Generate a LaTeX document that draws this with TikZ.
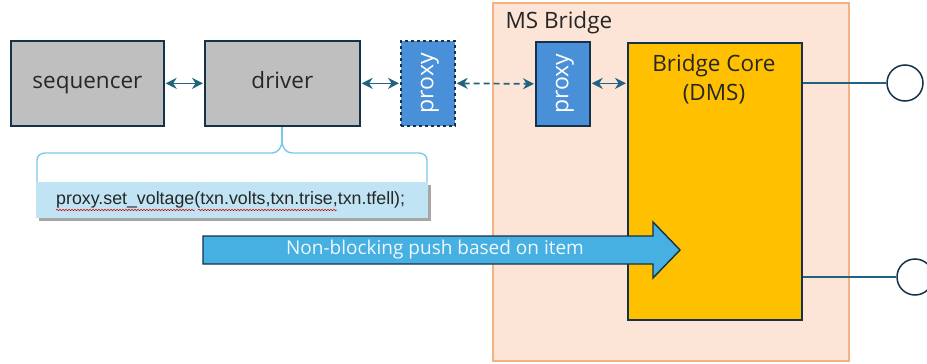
\documentclass[tikz,border=0pt]{standalone}
\usepackage{fontspec}
\setmainfont{Open Sans}
\newfontfamily\codefont{Liberation Sans}
\usetikzlibrary{arrows.meta,shadows,decorations.pathmorphing}
\definecolor{edgeblue}{HTML}{1F6381}
\definecolor{darkline}{HTML}{14324A}
\definecolor{boxgray}{HTML}{BFBFBF}
\definecolor{proxyblue}{HTML}{4A90D9}
\definecolor{bridgefill}{HTML}{FCE4D6}
\definecolor{bridgeline}{HTML}{F4B183}
\definecolor{coreyellow}{HTML}{FFC000}
\definecolor{bracecol}{HTML}{7CC8EC}
\definecolor{codefill}{HTML}{C0E4F4}
\definecolor{pusharrow}{HTML}{45B0E1}
\tikzset{
  graybox/.style={draw=darkline, line width=1.7pt, fill=boxgray, font=\fontsize{22.5}{25}\selectfont, text=black!85,
    text height=13pt, text depth=2pt},
  proxybox/.style={draw=darkline, line width=1.7pt, fill=proxyblue},
  proxytext/.style={rotate=90, text=white, font=\fontsize{23}{25}\selectfont, text height=13pt, text depth=2pt},
  tip/.tip={Stealth[length=11pt,width=11pt]},
  link/.style={draw=edgeblue, line width=1.7pt, tip-tip},
  port/.style={draw=edgeblue, line width=1.3pt},
  portcircle/.style={circle, draw=darkline, line width=1.5pt, fill=white, minimum size=36pt, inner sep=0pt},
  squiggle/.style={draw=red!85!black, line width=0.5pt, decorate, decoration={snake, amplitude=0.8pt, segment length=3pt}}
}
\begin{document}
\begin{tikzpicture}[x=1pt,y=-1pt]
\useasboundingbox (0,0) rectangle (927,364);

% MS Bridge container
\path[fill=bridgefill, draw=bridgeline, line width=1.5pt] (493,3) rectangle (849,361);
\node[anchor=west, font=\fontsize{22.5}{25}\selectfont, text=black!85] (mslabel) at (502,23) {MS Bridge};

% Bridge core
\node[draw=darkline, line width=1.7pt, fill=coreyellow, minimum width=174pt, minimum height=277pt, anchor=north west, inner sep=0pt] (core) at (627,42) {};
\node[align=center, font=\fontsize{22.5}{29}\selectfont, text=black!85, anchor=north] (coretext) at (714,51) {Bridge Core\\(DMS)};

% Blocks on the left
\node[graybox, minimum width=153pt, minimum height=85pt, anchor=north west, inner sep=0pt] (seq) at (10,40) {sequencer};
\node[graybox, minimum width=155pt, minimum height=85pt, anchor=north west, inner sep=0pt] (drv) at (204,40) {driver};
\node[proxybox, dashed, minimum width=54pt, minimum height=85pt, anchor=north west, inner sep=0pt] (px1) at (400,40) {};
\node[proxytext] (px1text) at (px1.center) {proxy};
\node[proxybox, minimum width=54pt, minimum height=84pt, anchor=north west, inner sep=0pt] (px2) at (535,41) {};
\node[proxytext] (px2text) at (px2.center) {proxy};

% Connectors
\draw[link] ([xshift=1pt]seq.east) -- ([xshift=-1pt]drv.west);
\draw[link] ([xshift=1pt]drv.east) -- ([xshift=-1pt]px1.west);
\draw[link, dash pattern=on 6pt off 4pt] ([xshift=1pt]px1.east) -- ([xshift=-1pt]px2.west);
\draw[link] ([xshift=1pt]px2.east |- px1.east) -- ([xshift=-1pt]core.west |- px1.east);

% Ports on the right
\node[portcircle] (p1) at (905,83) {};
\node[portcircle] (p2) at (915,277) {};
\draw[port] (core.east |- p1) -- (p1.west);
\draw[port] (core.east |- p2) -- (p2.west);

% Brace from the driver to the code box
\coordinate (bracetip) at (282,141);
\draw[bracecol, line width=1.4pt] (drv.south -| bracetip) -- (bracetip);
\draw[bracecol, line width=1.4pt] (37,184) -- (37,160) to[out=90,in=180] (45,153) -- (272,153)
  to[out=0,in=-90] (bracetip) to[out=-90,in=180] (292,153) -- (419,153) to[out=0,in=90] (427,160) -- (427,184);

% Code box
\node[fill=codefill, minimum width=392pt, minimum height=36pt, anchor=north west, inner sep=0pt,
  drop shadow={shadow xshift=2.5pt, shadow yshift=-2.5pt, fill=black, opacity=0.35}] (code) at (36,182) {};
\node[anchor=west, inner sep=0pt, font=\codefont\fontsize{17.8}{19}\selectfont, text=black!85] (codetext) at (56,200) {proxy.set\_voltage(txn.volts,txn.trise,txn.tfell);};
\draw[squiggle] (56,210) -- (195,210);
\draw[squiggle] (198,210) -- (337,210);

% Push arrow, outlined as a block arrow
\coordinate (pa1) at (203,236);
\coordinate (pa2) at (653,236);
\coordinate (pa3) at (653,222);
\coordinate (pa4) at (680,250);
\coordinate (pa5) at (653,278);
\coordinate (pa6) at (653,264);
\coordinate (pa7) at (203,264);
\draw[draw=darkline, line width=1.4pt, fill=pusharrow, line join=miter]
  (pa1) -- (pa2) -- (pa3) -- (pa4) -- (pa5) -- (pa6) -- (pa7) -- cycle;
\node[text=white!92!pusharrow, font=\fontsize{19}{21}\selectfont] (pushtext) at (435,250) {Non-blocking push based on item};
\end{tikzpicture}
\end{document}
